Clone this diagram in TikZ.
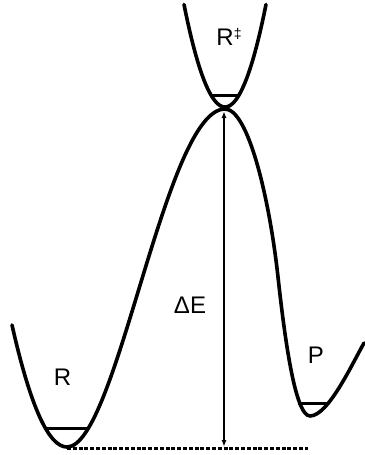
\documentclass[tikz,border=0pt]{standalone}
\usepackage{fontspec}
\setmainfont{Liberation Sans}
\usetikzlibrary{arrows.meta}
\begin{document}
\begin{tikzpicture}[x=1pt,y=-1pt,
  curve/.style={line width=3.6pt, line cap=round, line join=round},
  level/.style={line width=3pt},
  lab/.style={font=\fontsize{24}{28}\selectfont, inner sep=0pt, anchor=base},
  gap/.style={line width=1.5pt, {Latex[length=7pt,width=5pt]}-{Latex[length=7pt,width=5pt]}},
  base/.style={line width=3pt, dash pattern=on 4pt off 1.8pt}]
\useasboundingbox (0,0) rectangle (364,455);
% energy profile R -> barrier -> P
\draw[curve] (12,325) .. controls (30.33,406.3) and (48.67,447) .. (67,447)
  .. controls (117,447) and (165,109) .. (225,109)
  .. controls (248,109) and (269.2,197) .. (278,277)
  .. controls (284.6,337) and (295,416) .. (310,416)
  .. controls (328,416) and (351.7,364.8) .. (364,343);
% transition-state well
\draw[curve] plot[domain=-41:41, samples=60, smooth] ({225+\x},{107-0.061*\x*\x});
% vibrational levels
\draw[level] (45,428) -- (88,428);
\draw[level] (211,95) -- (239,95);
\draw[level] (298,403) -- (327,403);
% coordinates
\coordinate (top) at (224,111);
\coordinate (bot) at (224,447);
\coordinate (Rmin) at (67,448);
\coordinate (Rend) at (308,448);
\draw[base] (Rmin) -- (Rend);
\draw[gap] (top) -- (bot);
% labels
\node[lab] (TS) at (229,45) {R\raisebox{6.5pt}{\fontsize{14}{14}\selectfont ‡}};
\node[lab] (dE) at (190,313) {ΔE};
\node[lab] (R) at (62.5,385) {R};
\node[lab] (P) at (316,363) {P};
\end{tikzpicture}
\end{document}
